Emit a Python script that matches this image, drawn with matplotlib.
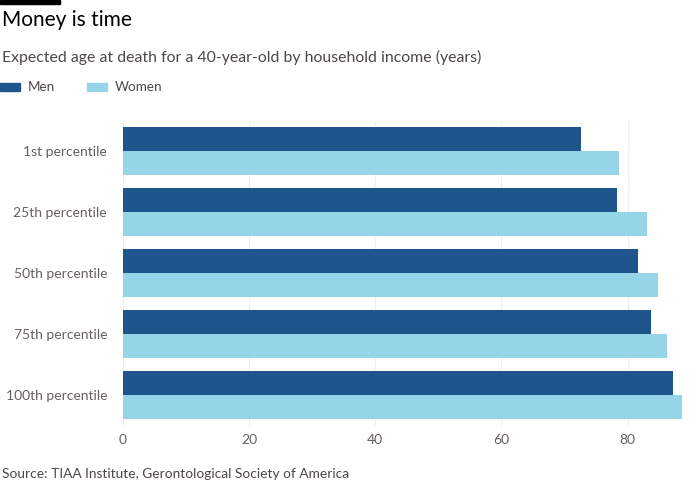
import matplotlib
matplotlib.use("Agg")
import matplotlib.pyplot as plt
import numpy as np

categories = ["1st percentile", "25th percentile", "50th percentile", "75th percentile", "100th percentile"]
men = [72.6, 78.3, 81.6, 83.7, 87.2]
women = [78.6, 83.1, 84.8, 86.2, 88.7]
xticks = [0, 20, 40, 60, 80]

MEN_C = "#1e558c"
WOMEN_C = "#96d4e8"
TEXT_C = "#66605c"

plt.rcParams['font.family'] = ['Lato', 'DejaVu Sans']

fig = plt.figure(figsize=(7, 5), dpi=100)
ax = fig.add_axes([123/700, 1-425.5/500, 560/700, 305/500])

y = np.arange(len(categories))
h = 0.395
ax.barh(y - h/2, men, height=h, color=MEN_C, label="Men", zorder=3)
ax.barh(y + h/2, women, height=h, color=WOMEN_C, label="Women", zorder=3)

ax.set_ylim(4.5, -0.5)
ax.set_xlim(0, 88.8)
ax.set_yticks(y)
ax.set_yticklabels(categories, fontsize=10, color=TEXT_C)
ax.set_xticks(xticks)
ax.set_xticklabels([str(t) for t in xticks], fontsize=10, color=TEXT_C)
ax.tick_params(axis='both', length=0)
ax.tick_params(axis='y', pad=11.5)
ax.tick_params(axis='x', pad=6)
for s in ax.spines.values():
    s.set_visible(False)
ax.grid(axis='x', color="#f0eeec", linewidth=0.8, zorder=0)

# top black bar
fig.patches.append(plt.Rectangle((0, 1-4/500), 60/700, 4/500, transform=fig.transFigure, color="black"))

fig.text(2/700, 1-20/500, "Money is time", fontsize=15, color="black", va='center', ha='left')
fig.text(2/700, 1-57/500, "Expected age at death for a 40-year-old by household income (years)",
         fontsize=11.4, color="#4d4845", va='center', ha='left')

# legend
fig.patches.append(plt.Rectangle((0, 1-91/500), 20/700, 8/500, transform=fig.transFigure, color=MEN_C))
fig.text(28/700, 1-87/500, "Men", fontsize=9.7, color="#4d4845", va='center', ha='left')
fig.patches.append(plt.Rectangle((87/700, 1-91/500), 20/700, 8/500, transform=fig.transFigure, color=WOMEN_C))
fig.text(115/700, 1-87/500, "Women", fontsize=9.7, color="#4d4845", va='center', ha='left')

fig.text(2/700, 1-474/500, "Source: TIAA Institute, Gerontological Society of America",
         fontsize=9.9, color="#4d4845", va='center', ha='left')

fig.savefig("out.png", dpi=100, facecolor="white")
